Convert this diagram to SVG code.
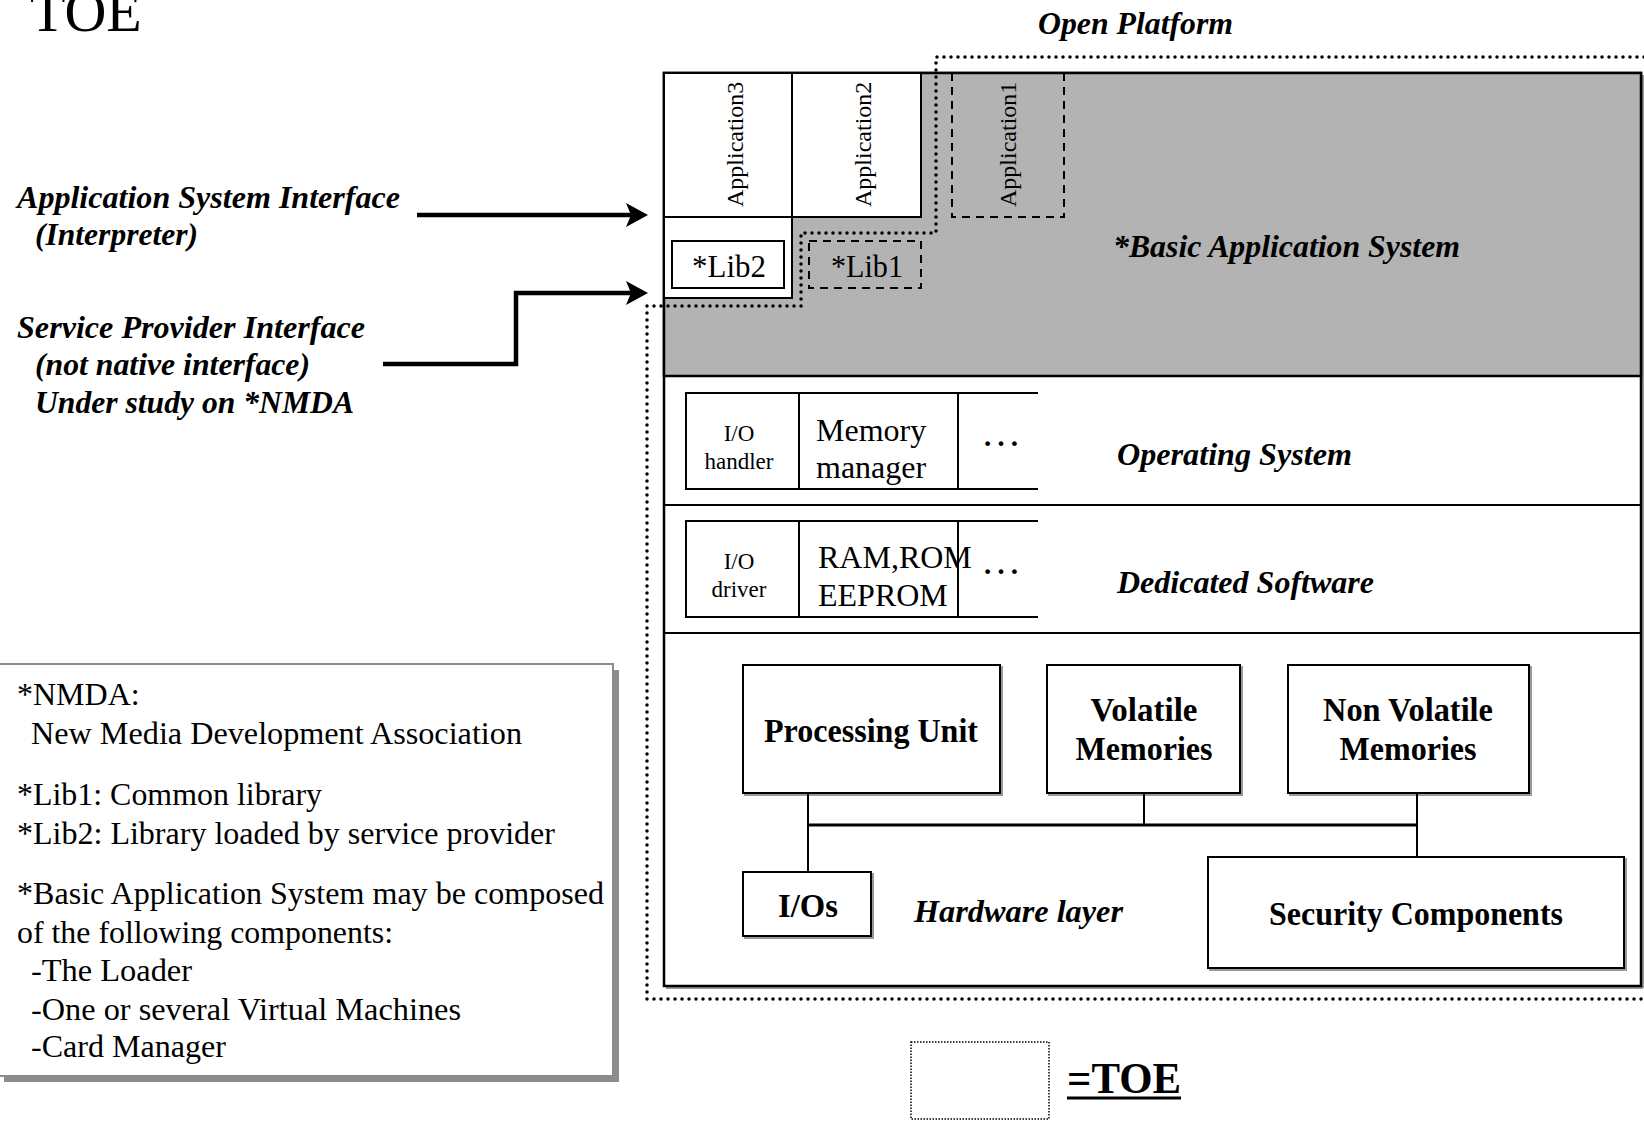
<svg xmlns="http://www.w3.org/2000/svg" width="1644" height="1121" viewBox="0 0 1644 1121">
<defs>
<style>
.serif{font-family:"Liberation Serif","Times New Roman",serif;fill:#000}
.bi{font-family:"Liberation Serif","Times New Roman",serif;font-weight:bold;font-style:italic;font-size:32px;fill:#000}
.b{font-family:"Liberation Serif","Times New Roman",serif;font-weight:bold;font-size:34px;fill:#000}
.reg{font-family:"Liberation Serif","Times New Roman",serif;font-size:32px;fill:#000}
.box{fill:#fff;stroke:#000;stroke-width:2}
.shadow{fill:none;stroke:#9a9a9a;stroke-width:2}
.dash{fill:none;stroke:#000;stroke-width:2;stroke-dasharray:8 6}
.dot{fill:none;stroke:#000;stroke-width:3.5;stroke-linecap:round;stroke-dasharray:0 7}
.line{fill:none;stroke:#000;stroke-width:2}
.arrow{fill:none;stroke:#000;stroke-width:4.5}
</style>
<marker id="ah" viewBox="0 0 22 24" refX="14" refY="12" markerWidth="22" markerHeight="24" markerUnits="userSpaceOnUse" orient="auto">
<path d="M0,0 L22,12 L0,24 L5,12 z" fill="#000"/>
</marker>
</defs>

<text class="serif" x="30" y="31" font-size="58">TOE</text>

<g id="open-platform-label">
<text class="bi" x="1038" y="34" font-size="30" textLength="195" lengthAdjust="spacingAndGlyphs">Open Platform</text>
</g>

<g id="main-box">
<line x1="666" y1="988" x2="1643" y2="988" class="shadow"/>
<line x1="1643" y1="75" x2="1643" y2="988" class="shadow"/>
<rect x="664" y="73" width="977" height="913" fill="#fff" stroke="#000" stroke-width="2.5"/>
</g>

<g id="basic-application-system">
<rect x="664" y="73" width="977" height="303" fill="#b3b3b3" stroke="#000" stroke-width="2.5"/>
<text class="bi" x="1113" y="257" textLength="347" lengthAdjust="spacingAndGlyphs">*Basic Application System</text>
</g>

<g id="application3">
<path d="M664,73 L792,73 L792,298 L664,298 Z" fill="#fff" stroke="#000" stroke-width="2"/>
<line x1="664" y1="217" x2="792" y2="217" class="line"/>
<text class="serif" font-size="24" transform="translate(743,207) rotate(-90)">Application3</text>
</g>

<g id="application2">
<rect x="792" y="73" width="129" height="144" class="box"/>
<text class="serif" font-size="24" transform="translate(871,207) rotate(-90)">Application2</text>
</g>

<g id="application1">
<path d="M952,73 L952,217 L1064,217 L1064,73" class="dash"/>
<text class="serif" font-size="24" transform="translate(1016,207) rotate(-90)">Application1</text>
</g>

<g id="lib2">
<rect x="672" y="241" width="112" height="47" class="box"/>
<text class="serif" font-size="31" x="729" y="277" text-anchor="middle" textLength="74" lengthAdjust="spacingAndGlyphs">*Lib2</text>
</g>

<g id="lib1">
<rect x="809" y="241" width="112" height="47" class="dash"/>
<text class="serif" font-size="31" x="867" y="277" text-anchor="middle" textLength="72" lengthAdjust="spacingAndGlyphs">*Lib1</text>
</g>

<g id="operating-system">
<line x1="664" y1="505" x2="1641" y2="505" class="line"/>
<path d="M1038,393 L686,393 L686,489 L1038,489 M799,393 L799,489 M958,393 L958,489" class="line"/>
<text class="serif" font-size="23" x="739" y="441" text-anchor="middle">I/O</text>
<text class="serif" font-size="23" x="739" y="469" text-anchor="middle">handler</text>
<text class="serif" font-size="32" x="816" y="441">Memory</text>
<text class="serif" font-size="32" x="816" y="478">manager</text>
<text class="serif" font-size="40" x="981" y="446">…</text>
<text class="bi" x="1117" y="465" textLength="235" lengthAdjust="spacingAndGlyphs">Operating System</text>
</g>

<g id="dedicated-software">
<line x1="664" y1="633" x2="1641" y2="633" class="line"/>
<path d="M1038,521 L686,521 L686,617 L1038,617 M799,521 L799,617 M958,521 L958,617" class="line"/>
<text class="serif" font-size="23" x="739" y="569" text-anchor="middle">I/O</text>
<text class="serif" font-size="23" x="739" y="597" text-anchor="middle">driver</text>
<text class="serif" font-size="32" x="818" y="568">RAM,ROM</text>
<text class="serif" font-size="32" x="818" y="606">EEPROM</text>
<text class="serif" font-size="40" x="981" y="574">…</text>
<text class="bi" x="1117" y="593" textLength="257" lengthAdjust="spacingAndGlyphs">Dedicated Software</text>
</g>

<g id="hardware-layer">
<text class="bi" x="914" y="922" textLength="209" lengthAdjust="spacingAndGlyphs">Hardware layer</text>
</g>

<g id="processing-unit">
<rect x="745" y="667" width="257" height="128" class="shadow"/>
<rect x="743" y="665" width="257" height="128" class="box"/>
<text class="b" x="871" y="742" text-anchor="middle" textLength="214" lengthAdjust="spacingAndGlyphs">Processing Unit</text>
</g>

<g id="volatile-memories">
<rect x="1049" y="667" width="193" height="128" class="shadow"/>
<rect x="1047" y="665" width="193" height="128" class="box"/>
<text class="b" x="1144" y="721" text-anchor="middle" textLength="107" lengthAdjust="spacingAndGlyphs">Volatile</text>
<text class="b" x="1144" y="760" text-anchor="middle" textLength="137" lengthAdjust="spacingAndGlyphs">Memories</text>
</g>

<g id="non-volatile-memories">
<rect x="1290" y="667" width="241" height="128" class="shadow"/>
<rect x="1288" y="665" width="241" height="128" class="box"/>
<text class="b" x="1408" y="721" text-anchor="middle" textLength="170" lengthAdjust="spacingAndGlyphs">Non Volatile</text>
<text class="b" x="1408" y="760" text-anchor="middle" textLength="137" lengthAdjust="spacingAndGlyphs">Memories</text>
</g>

<g id="ios">
<rect x="745" y="874" width="128" height="64" class="shadow"/>
<rect x="743" y="872" width="128" height="64" class="box"/>
<text class="b" x="808" y="917" text-anchor="middle" textLength="60" lengthAdjust="spacingAndGlyphs">I/Os</text>
</g>

<g id="security-components">
<rect x="1210" y="859" width="416" height="111" class="shadow"/>
<rect x="1208" y="857" width="416" height="111" class="box"/>
<text class="b" x="1416" y="925" text-anchor="middle" textLength="294" lengthAdjust="spacingAndGlyphs">Security Components</text>
</g>

<g id="connectors">
<line x1="808" y1="825" x2="1418" y2="825" stroke="#000" stroke-width="3"/>
<line x1="808" y1="793" x2="808" y2="872" class="line"/>
<line x1="1144" y1="793" x2="1144" y2="825" class="line"/>
<line x1="1417" y1="793" x2="1417" y2="857" class="line"/>
<line x1="417" y1="215" x2="640" y2="215" class="arrow" marker-end="url(#ah)"/>
<path d="M383,364 L516,364 L516,293 L640,293" class="arrow" marker-end="url(#ah)"/>
</g>

<g id="interface-labels">
<text class="bi" x="17" y="208" textLength="383" lengthAdjust="spacingAndGlyphs">Application System Interface</text>
<text class="bi" x="35" y="245" textLength="163" lengthAdjust="spacingAndGlyphs">(Interpreter)</text>
<text class="bi" x="17" y="338" textLength="348" lengthAdjust="spacingAndGlyphs">Service Provider Interface</text>
<text class="bi" x="35" y="375" textLength="275" lengthAdjust="spacingAndGlyphs">(not native interface)</text>
<text class="bi" x="35" y="413" textLength="319" lengthAdjust="spacingAndGlyphs">Under study on *NMDA</text>
</g>

<g id="toe-boundary">
<path d="M1644,57 L936,57 L936,233 L801,233 L801,306 L647,306 L647,999 L1644,999" class="dot"/>
</g>

<g id="legend">
<rect x="4" y="670" width="615" height="412" fill="#8c8c8c"/>
<rect x="-2" y="664" width="615" height="412" fill="#fff" stroke="#8c8c8c" stroke-width="2"/>
<text class="reg" x="17" y="705">*NMDA:</text>
<text class="reg" x="31" y="744" textLength="491" lengthAdjust="spacingAndGlyphs">New Media Development Association</text>
<text class="reg" x="17" y="805" textLength="305" lengthAdjust="spacingAndGlyphs">*Lib1: Common library</text>
<text class="reg" x="17" y="844" textLength="538" lengthAdjust="spacingAndGlyphs">*Lib2: Library loaded by service provider</text>
<text class="reg" x="17" y="904" textLength="587" lengthAdjust="spacingAndGlyphs">*Basic Application System may be composed</text>
<text class="reg" x="17" y="943" textLength="376" lengthAdjust="spacingAndGlyphs">of the following components:</text>
<text class="reg" x="31" y="981" textLength="161" lengthAdjust="spacingAndGlyphs">-The Loader</text>
<text class="reg" x="31" y="1020" textLength="430" lengthAdjust="spacingAndGlyphs">-One or several Virtual Machines</text>
<text class="reg" x="31" y="1057" textLength="195" lengthAdjust="spacingAndGlyphs">-Card Manager</text>
</g>

<g id="toe-key">
<rect x="911" y="1042" width="138" height="77" fill="none" stroke="#000" stroke-width="1.5" stroke-dasharray="1.5 1.5"/>
<text class="serif" font-weight="bold" font-size="44" x="1067" y="1093" textLength="114" lengthAdjust="spacingAndGlyphs">=TOE</text>
<line x1="1067" y1="1098" x2="1181" y2="1098" stroke="#000" stroke-width="3"/>
</g>
</svg>
